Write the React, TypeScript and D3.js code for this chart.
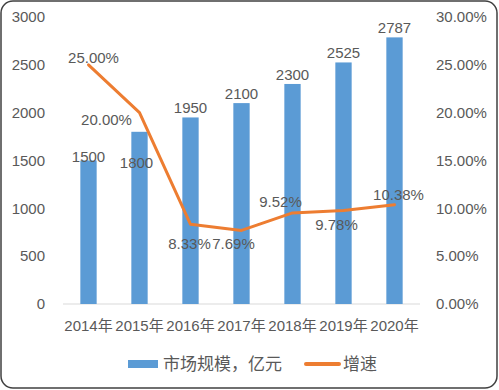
import React from "react";
import * as d3 from "d3";

const years = ["2014年", "2015年", "2016年", "2017年", "2018年", "2019年", "2020年"];
const marketSize = [1500, 1800, 1950, 2100, 2300, 2525, 2787];
const growth = [25.0, 20.0, 8.33, 7.69, 9.52, 9.78, 10.38];
const leftTicks = [0, 500, 1000, 1500, 2000, 2500, 3000];
const rightTicks = [0, 5, 10, 15, 20, 25, 30];
const seriesNames = ["市场规模，亿元", "增速"];

// label offsets (style only)
const barLabelDy = [5, 40, 0, 0, 0, 0, 0];
const barLabelDx = [0, -3, 0, 0, 0, 0, 0];
const lineLabelOff: [number, number][] = [
  [5, -7],
  [-33, 7],
  [-1, 19],
  [-8, 13],
  [-12, -11],
  [-7, 14],
  [4, -10],
];

const W = 499;
const H = 390;
const textColor = "#595959";
const font = "'Liberation Sans', Arial, sans-serif";
const cjk = "'Liberation Sans', 'Noto Sans CJK SC', sans-serif";

export default function App() {
  const x = d3.scaleBand<string>().domain(years).range([63, 420]).paddingInner(0.68).paddingOuter(0.34);
  const yL = d3.scaleLinear().domain([0, 3000]).range([304, 17]);
  const yR = d3.scaleLinear().domain([0, 30]).range([304, 17]);
  const cx = (i: number) => (x(years[i]) as number) + x.bandwidth() / 2;
  const line = d3
    .line<number>()
    .x((_, i) => cx(i))
    .y((d) => yR(d));

  return (
    <svg width={W} height={H} style={{ position: "absolute", left: 0, top: 0 }}>
      <rect x={1} y={1} width={W - 3} height={H - 3} rx={12} ry={12} fill="#fff" stroke="#404040" strokeWidth={1.5} />
      {/* left axis labels */}
      {leftTicks.map((t) => (
        <text key={"l" + t} x={45} y={yL(t)} dy="0.35em" textAnchor="end" fill={textColor} fontSize={15} fontFamily={font}>
          {t}
        </text>
      ))}
      {/* right axis labels */}
      {rightTicks.map((t) => (
        <text key={"r" + t} x={436} y={yR(t)} dy="0.35em" textAnchor="start" fill={textColor} fontSize={15} fontFamily={font}>
          {t.toFixed(2) + "%"}
        </text>
      ))}
      {/* baseline */}
      <line x1={63} x2={420} y1={yL(0)} y2={yL(0)} stroke="#d9d9d9" strokeWidth={1} />
      {/* bars */}
      {marketSize.map((v, i) => (
        <rect key={"b" + i} x={x(years[i])} y={yL(v)} width={x.bandwidth()} height={yL(0) - yL(v)} fill="#5b9bd5" />
      ))}
      {/* x labels */}
      {years.map((yr, i) => (
        <text key={"x" + i} x={cx(i)} y={326} dy="0.35em" textAnchor="middle" fill={textColor} fontSize={15} fontFamily={cjk}>
          {yr}
        </text>
      ))}
      {/* line */}
      <path d={line(growth) || ""} fill="none" stroke="#ed7d31" strokeWidth={3} strokeLinejoin="round" strokeLinecap="round" />
      {/* bar labels */}
      {marketSize.map((v, i) => (
        <text key={"bl" + i} x={cx(i) + barLabelDx[i]} y={yL(v) - 4 + barLabelDy[i]} textAnchor="middle" fill={textColor} fontSize={15} fontFamily={font}>
          {v}
        </text>
      ))}
      {/* line labels */}
      {growth.map((g, i) => (
        <text
          key={"ll" + i}
          x={cx(i) + lineLabelOff[i][0]}
          y={yR(g) + lineLabelOff[i][1]}
          dy="0.35em"
          textAnchor="middle"
          fill={textColor}
          fontSize={15}
          fontFamily={font}
        >
          {g.toFixed(2) + "%"}
        </text>
      ))}
      {/* legend */}
      <rect x={128} y={360} width={30} height={8} fill="#5b9bd5" />
      <text x={163} y={364} dy="0.35em" fill={textColor} fontSize={17} fontFamily={cjk}>
        {seriesNames[0]}
      </text>
      <line x1={306} x2={339} y1={364} y2={364} stroke="#ed7d31" strokeWidth={4} strokeLinecap="round" />
      <text x={343} y={364} dy="0.35em" fill={textColor} fontSize={17} fontFamily={cjk}>
        {seriesNames[1]}
      </text>
    </svg>
  );
}
